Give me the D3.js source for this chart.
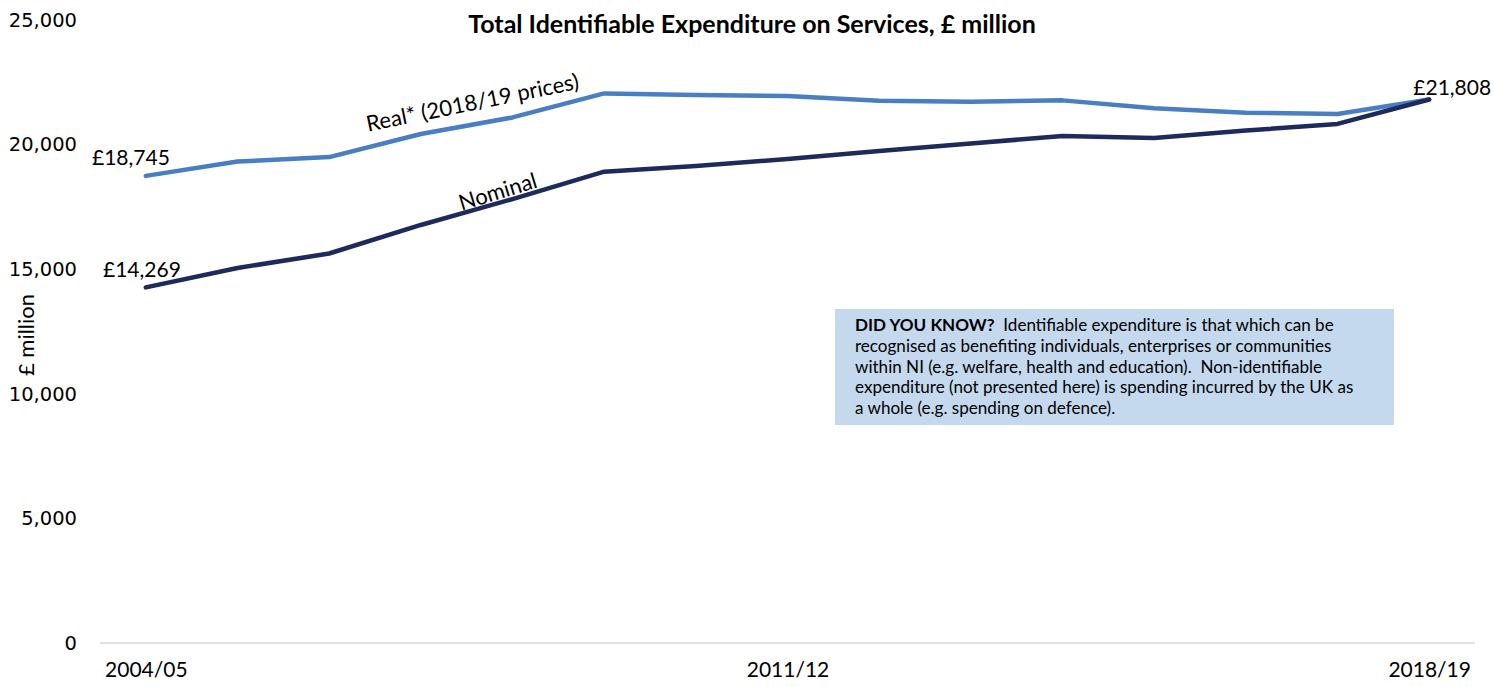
<!DOCTYPE html>
<html><head><meta charset="utf-8">
<script src="https://cdn.jsdelivr.net/npm/d3@7"></script>
<style>
body{margin:0;background:#fff;}
text{font-family:Lato,"Open Sans",sans-serif;fill:#000;}
</style></head>
<body><svg id="c" width="1494" height="687"></svg>
<script>
const years = ["2004/05","2005/06","2006/07","2007/08","2008/09","2009/10","2010/11","2011/12","2012/13","2013/14","2014/15","2015/16","2016/17","2017/18","2018/19"];
const realValues = [18745,19320,19500,20425,21090,22055,21990,21950,21760,21720,21775,21455,21280,21230,21808];
const nominalValues = [14269,15050,15630,16775,17815,18915,19140,19420,19745,20045,20345,20265,20565,20830,21808];
const yTicks = [0,5000,10000,15000,20000,25000];
const xTickLabels = ["2004/05","2011/12","2018/19"];
const title = "Total Identifiable Expenditure on Services, £ million";
const noteLines = [
 ["DID YOU KNOW?", "  Identifiable expenditure is that which can be"],
 ["", "recognised as benefiting individuals, enterprises or communities"],
 ["", "within NI (e.g. welfare, health and education).  Non-identifiable"],
 ["", "expenditure (not presented here) is spending incurred by the UK as"],
 ["", "a whole (e.g. spending on defence)."]
];

const svg = d3.select("#c");
const x = d3.scalePoint().domain(years).range([100,1475]).padding(0.5);
const y = d3.scaleLinear().domain([0,25000]).range([643,20]);

// baseline
svg.append("line").attr("x1",100).attr("x2",1475).attr("y1",y(0)).attr("y2",y(0))
  .attr("stroke","#d9d9d9").attr("stroke-width",1.5);

// y tick labels
const yAxis = d3.axisLeft(y).tickValues(yTicks).tickFormat(d3.format(",")).tickSize(0).tickPadding(0);
const gy = svg.append("g").attr("transform","translate(77,0)").call(yAxis);
gy.select(".domain").remove();
gy.selectAll("text").style("font-family","'DejaVu Sans',Verdana,sans-serif").style("font-size","19.5px").attr("fill","#000");

// x tick labels
const xAxis = d3.axisBottom(x).tickValues(xTickLabels).tickSize(0).tickPadding(0);
const gx = svg.append("g").attr("transform","translate(0,662)").call(xAxis);
gx.select(".domain").remove();
gx.selectAll("text").style("font-family","Lato,sans-serif").style("font-size","21px").attr("fill","#000").attr("dy","0.71em");

// y axis title
svg.append("text").attr("transform","translate(34,335) rotate(-90)").attr("text-anchor","middle")
  .style("font-size","22px").text("£ million");

// title
svg.append("text").attr("x",752).attr("y",33).attr("text-anchor","middle")
  .style("font-size","25px").style("font-weight","bold").text(title);

// lines
const line = d3.line().x((d,i)=>x(years[i])).y(d=>y(d));
svg.append("path").datum(realValues).attr("d",line).attr("fill","none")
  .attr("stroke","#4a7ec2").attr("stroke-width",4.5).attr("stroke-linejoin","round").attr("stroke-linecap","round");
svg.append("path").datum(nominalValues).attr("d",line).attr("fill","none")
  .attr("stroke","#1d2a5b").attr("stroke-width",4.5).attr("stroke-linejoin","round").attr("stroke-linecap","round");

// data labels
const lbl = (t, xx, yy, anchor) => svg.append("text").attr("x",xx).attr("y",yy).attr("text-anchor",anchor)
  .style("font-size","21px").text(t);
lbl("£" + d3.format(",")(realValues[0]), x(years[0])+24, y(realValues[0])-11, "end");
lbl("£" + d3.format(",")(nominalValues[0]), x(years[0])+35, y(nominalValues[0])-10, "end");
lbl("£" + d3.format(",")(realValues[14]), x(years[14])+62, y(realValues[14])-5, "end");

// series labels
svg.append("text").attr("transform",`translate(474,${y(20780)-15}) rotate(-11.5)`).attr("text-anchor","middle")
  .style("font-size","22px").text("Real* (2018/19 prices)");
svg.append("text").attr("transform",`translate(500,${y(17820)}) rotate(-17)`).attr("text-anchor","middle")
  .style("font-size","22px").text("Nominal");

// note box
svg.append("rect").attr("x",835).attr("y",309).attr("width",559).attr("height",116).attr("fill","#c5d9ee");
const nt = svg.append("text").attr("x",855).attr("y",331).style("font-size","15px").attr("xml:space","preserve");
noteLines.forEach((l,i)=>{
  const ts = nt.append("tspan").attr("x",855).attr("dy", i===0?0:20.8);
  if(l[0]) ts.append("tspan").style("font-weight","bold").text(l[0]);
  ts.append("tspan").text(l[1]);
});
// fit note font size so first line spans like the reference
const firstLine = nt.select("tspan").node();
const w = firstLine.getComputedTextLength();
nt.style("font-size", (15*479/w).toFixed(2)+"px");
</script></body></html>
